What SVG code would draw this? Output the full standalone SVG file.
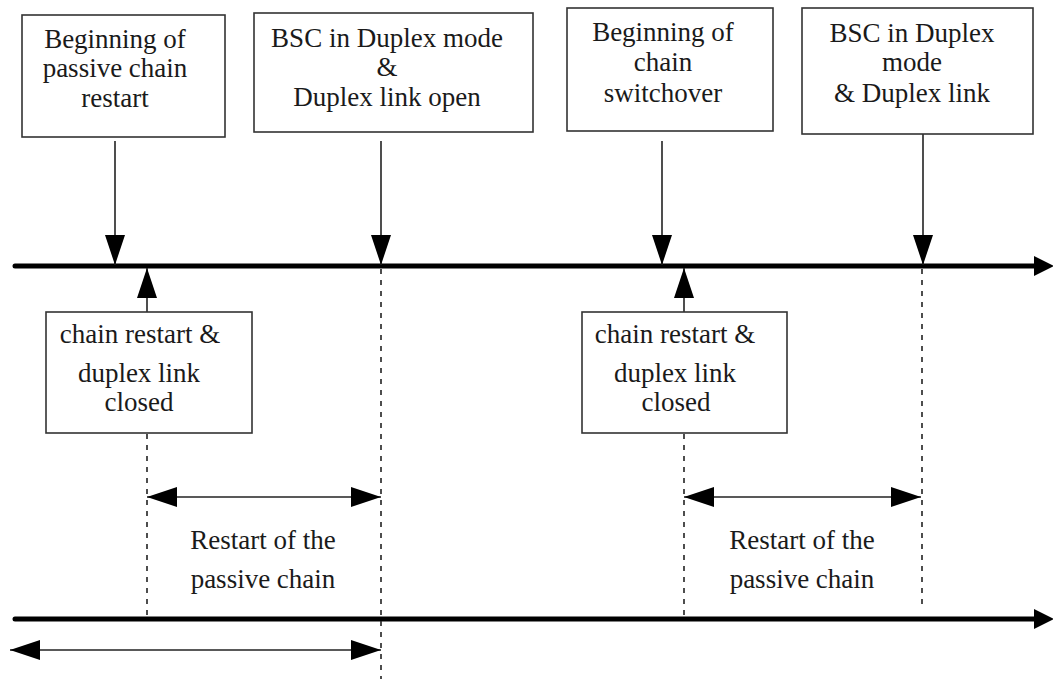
<svg xmlns="http://www.w3.org/2000/svg" width="1053" height="679" viewBox="0 0 1053 679">
  <style>
    .box { fill: #fff; stroke: #333; stroke-width: 1.6; }
    .lbl { font-family: "Liberation Serif", "Times New Roman", serif; font-size: 27px; fill: #1a1a1a; text-anchor: middle; }
    .thin { stroke: #222; stroke-width: 1.6; fill: none; }
    .axis { stroke: #000; stroke-width: 5; fill: none; stroke-linecap: round; }
    .dash { stroke: #222; stroke-width: 1.6; stroke-dasharray: 5 6; fill: none; }
  </style>
  <defs>
    <marker id="head" viewBox="0 0 30 20" markerWidth="30" markerHeight="20" refX="30" refY="10" markerUnits="userSpaceOnUse" orient="auto-start-reverse">
      <path d="M0,0 L30,10 L0,20 Z" fill="#000"/>
    </marker>
    <marker id="axisHead" viewBox="0 0 20 20" markerWidth="20" markerHeight="20" refX="2" refY="10" markerUnits="userSpaceOnUse" orient="auto">
      <path d="M0,0 L20,10 L0,20 Z" fill="#000"/>
    </marker>
  </defs>

  <!-- time axes -->
  <g id="axes">
    <path class="axis" d="M15,266 H1036" marker-end="url(#axisHead)"/>
    <path class="axis" d="M15,619 H1036" marker-end="url(#axisHead)"/>
  </g>

  <!-- arrows, guide lines and spans -->
  <g id="connectors">
    <path class="thin" d="M115,141 V265" marker-end="url(#head)"/>
    <path class="thin" d="M381,141 V265" marker-end="url(#head)"/>
    <path class="thin" d="M662,141 V265" marker-end="url(#head)"/>
    <path class="thin" d="M923,134 V265" marker-end="url(#head)"/>
    <path class="thin" d="M147,312 V268" marker-end="url(#head)"/>
    <path class="thin" d="M684,312 V268" marker-end="url(#head)"/>

    <path class="dash" d="M381,269 V679"/>
    <path class="dash" d="M922,269 V608"/>
    <path class="dash" d="M147,434 V617"/>
    <path class="dash" d="M684,434 V617"/>

    <path class="thin" d="M147,497 H381" marker-start="url(#head)" marker-end="url(#head)"/>
    <path class="thin" d="M684,497 H921" marker-start="url(#head)" marker-end="url(#head)"/>
    <path class="thin" d="M10,650 H381" marker-start="url(#head)" marker-end="url(#head)"/>
  </g>

  <g id="passive-restart-start">
    <rect class="box" x="22" y="15" width="203" height="122"/>
    <text class="lbl" x="115" y="48">Beginning of</text>
    <text class="lbl" x="115" y="77">passive chain</text>
    <text class="lbl" x="115" y="107">restart</text>
  </g>

  <g id="duplex-link-open">
    <rect class="box" x="254" y="13" width="279" height="119"/>
    <text class="lbl" x="387" y="47">BSC in Duplex mode</text>
    <text class="lbl" x="387" y="76">&amp;</text>
    <text class="lbl" x="387" y="106">Duplex link open</text>
  </g>

  <g id="switchover-start">
    <rect class="box" x="567" y="8" width="206" height="123"/>
    <text class="lbl" x="663" y="41">Beginning of</text>
    <text class="lbl" x="663" y="71">chain</text>
    <text class="lbl" x="663" y="102">switchover</text>
  </g>

  <g id="duplex-link-2">
    <rect class="box" x="802" y="8" width="231" height="126"/>
    <text class="lbl" x="912" y="42">BSC in Duplex</text>
    <text class="lbl" x="912" y="71">mode</text>
    <text class="lbl" x="912" y="102">&amp; Duplex link</text>
  </g>

  <g id="link-closed-1">
    <rect class="box" x="46" y="312" width="206" height="121"/>
    <text class="lbl" x="140" y="343">chain restart &amp;</text>
    <text class="lbl" x="139" y="382">duplex link</text>
    <text class="lbl" x="139" y="411">closed</text>
  </g>

  <g id="link-closed-2">
    <rect class="box" x="582" y="312" width="205" height="121"/>
    <text class="lbl" x="675" y="343">chain restart &amp;</text>
    <text class="lbl" x="675" y="382">duplex link</text>
    <text class="lbl" x="676" y="411">closed</text>
  </g>

  <g id="span-label-1">
    <text class="lbl" x="263" y="549">Restart of the</text>
    <text class="lbl" x="263" y="588">passive chain</text>
  </g>

  <g id="span-label-2">
    <text class="lbl" x="802" y="549">Restart of the</text>
    <text class="lbl" x="802" y="588">passive chain</text>
  </g>
</svg>
